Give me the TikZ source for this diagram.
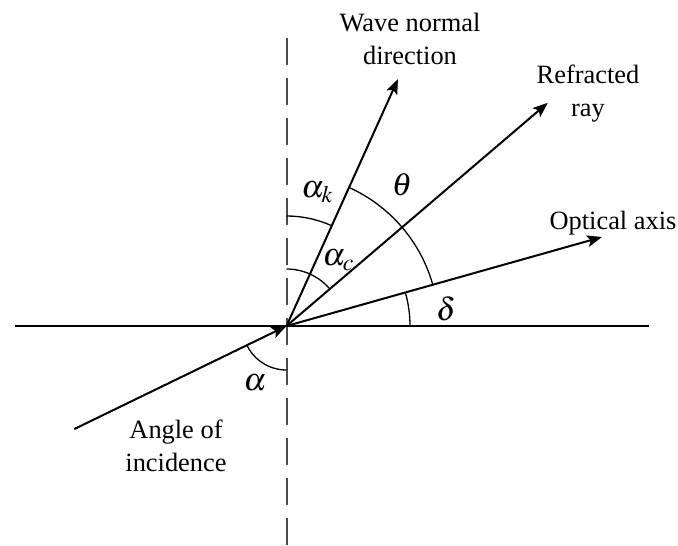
\documentclass[tikz,border=0pt]{standalone}
\usepackage{mathptmx}
\usepackage{fontspec}
\setmainfont{Liberation Serif}
\usetikzlibrary{arrows.meta}
\definecolor{dashgray}{HTML}{4A4A4A}

\begin{document}
\begin{tikzpicture}[
    x=0.5pt, y=0.5pt,
    >={Stealth[length=7.5pt, width=5.8pt, inset=1.6pt]},
    font=\fontsize{13.2}{16.5}\selectfont,
    surface/.style={black, line width=1pt},
    normalaxis/.style={dashgray, line width=1pt, dash pattern=on 13.5pt off 6.5pt},
    ray/.style={black, line width=1pt, ->},
    anglearc/.style={black, line width=0.65pt},
    note/.style={inner sep=1pt, align=center},
    anglename/.style={inner sep=1pt, font=\fontsize{16}{19}\selectfont}
]

% -------- geometry and parameters --------
% lengths in pixels of the figure, origin at the point of incidence
\def\AWN{65.7}   % wave normal
\def\ARR{40.5}   % refracted ray
\def\AOA{15.75}  % optical axis
\def\AIN{205.9}  % incident ray, seen from the origin

\useasboundingbox (-286.5,-219) rectangle (391.5,326);

\coordinate (O) at (0,0);
\coordinate (left) at (-271.5,0);
\coordinate (right) at (362.5,0);
\coordinate (top) at (0,288);
\coordinate (bottom) at (0,-219);

% ================================================================
% INTERFACE AND NORMAL
% ================================================================
\draw[normalaxis] (top) -- (bottom);
\draw[surface] (left) -- (right);

% ================================================================
% RAYS
% ================================================================
\coordinate (inc) at (\AIN:236);
\coordinate (wn) at (\AWN:271);
\coordinate (rr) at (\ARR:343.7);
\coordinate (oa) at (\AOA:327.8);

\draw[ray] (inc) -- (O);
\foreach \t in {wn,rr,oa}{
    \draw[ray] (O) -- (\t);
}

% angle arcs
\draw[anglearc] ([shift={(\AWN:110)}]O) arc[start angle=\AWN, end angle=90, radius=110];
\draw[anglearc] ([shift={(\ARR:57)}]O) arc[start angle=\ARR, end angle=90, radius=57];
\draw[anglearc] ([shift={(\AOA:152)}]O) arc[start angle=\AOA, end angle=\AWN, radius=152];
\draw[anglearc] ([shift={(0:123.5)}]O) arc[start angle=0, end angle=\AOA, radius=123.5];
\draw[anglearc] ([shift={(\AIN:44)}]O) arc[start angle=\AIN, end angle=270, radius=44];

% ================================================================
% LABELS
% ================================================================
\node[note] (wnlabel) at (123.5,287.5) {Wave normal\\direction};
\node[note] (rrlabel) at (301.5,232.5) {Refracted\\ray};
\node[note] (oalabel) at (326.5,103) {Optical axis};
\node[note] (inclabel) at (-110.5,-119.5) {Angle of\\incidence};

\node[anglename] (ak) at (31,134) {$\alpha_k$};
\node[anglename] (ac) at (52,66) {$\alpha_c$};
\node[anglename] (th) at (115.5,141) {$\theta$};
\node[anglename] (de) at (159.5,17) {$\delta$};
\node[anglename] (al) at (-31.5,-57) {$\alpha$};

\end{tikzpicture}
\end{document}
